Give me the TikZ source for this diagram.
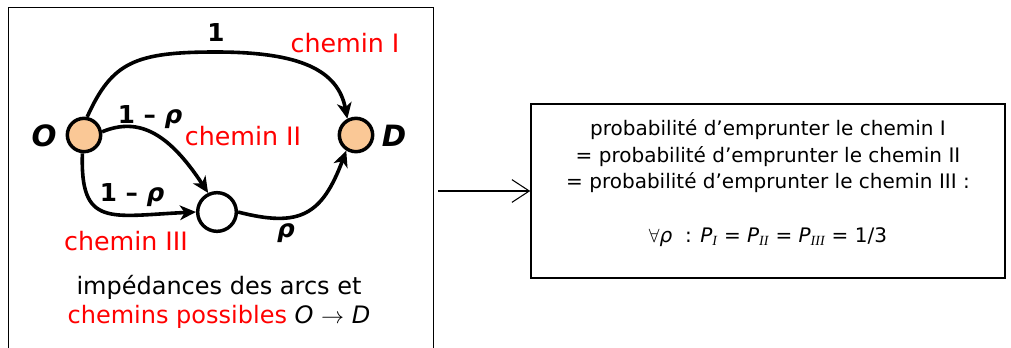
\documentclass[tikz,border=0pt]{standalone}
\usepackage{fontspec}
\setmainfont{DejaVu Sans}
\newfontfamily\serifit{Liberation Serif}
\usetikzlibrary{arrows.meta}
\definecolor{peach}{RGB}{250,200,150}
\definecolor{redtxt}{RGB}{255,0,0}
\tikzset{
  vtx/.style={circle, draw, line width=2.6pt, inner sep=0pt},
  orangevtx/.style={vtx, fill=peach, minimum size=25pt},
  whitevtx/.style={vtx, fill=white, minimum size=29pt},
  edge/.style={line width=2.7pt, -{Stealth[length=12pt,width=11pt,inset=3.5pt]}},
  lbl/.style={font=\fontsize{18}{22}\selectfont, inner sep=0pt},
  redlbl/.style={font=\fontsize{19}{22}\selectfont, text=redtxt, inner sep=0pt},
  wlbl/.style={font=\fontsize{18.5}{22}\selectfont\bfseries, inner sep=0pt},
  endlbl/.style={font=\fontsize{22}{24}\selectfont\bfseries\itshape, inner sep=0pt},
}
\begin{document}
\begin{tikzpicture}[x=0.75pt, y=-0.75pt]
\useasboundingbox (0,0) rectangle (1011,347);
% left frame
\node[draw, line width=1.1pt, minimum width=318.5pt, minimum height=270pt, anchor=north west, inner sep=0pt] (lbox) at (8,7) {};
% vertices
\node[orangevtx] (O) at (84,135) {};
\node[orangevtx] (D) at (356,135) {};
\node[whitevtx] (M) at (217,212) {};
\node[endlbl] (Olbl) at (44,136) {O};
\node[endlbl] (Dlbl) at (394,136) {D};
% edges
\draw[edge] (O.80) .. controls (112,62) and (135,52) .. (216,52)
   .. controls (300,52) and (338,70) .. (D.118);
\draw[edge] (O.10) .. controls (140,116) and (170,135) .. (M.115);
\draw[edge] (O.265) .. controls (80,228) and (110,216) .. (M.west);
\draw[edge] (M.east) .. controls (300,228) and (322,215) .. (D.238);
% labels
\node[wlbl] (w1) at (216,33) {1};
\node[redlbl] (c1) at (345,43) {chemin I};
\node[wlbl] (w2) at (150,117) {1 – \itshape ρ};
\node[redlbl] (c2) at (243,136) {chemin II};
\node[wlbl] (w3) at (132,195) {1 – \itshape ρ};
\node[redlbl] (c3) at (126,241) {chemin III};
\node[wlbl] (w4) at (286,233) {\itshape ρ};
\node[lbl, align=center] (cap) at (219,302) {impédances des arcs et\\
  \textcolor{redtxt}{chemins possibles} \textit{O} $\rightarrow$ \textit{D}};
% right box
\node[draw, line width=1.1pt, minimum width=355.5pt, minimum height=130.5pt, inner sep=0pt] (rbox) at (768,191) {};
\node[align=center, font=\fontsize{15}{20}\selectfont, inner sep=0pt] (rtext) at (768,183)
  {probabilité d’emprunter le chemin I\\
   = probabilité d’emprunter le chemin II\\
   = probabilité d’emprunter le chemin III :\\[20pt]
   $\forall$\textit{ρ} \ : \textit{P}\textsubscript{\serifit\itshape I} = \textit{P}\textsubscript{\serifit\itshape II} = \textit{P}\textsubscript{\serifit\itshape III} = 1/3};
\draw[line width=0.8pt, shorten <=3pt, -{Straight Barb[length=13pt,width=17pt,line width=0.8pt]}] (rbox.west -| lbox.east) -- (rbox.west);
\end{tikzpicture}
\end{document}
